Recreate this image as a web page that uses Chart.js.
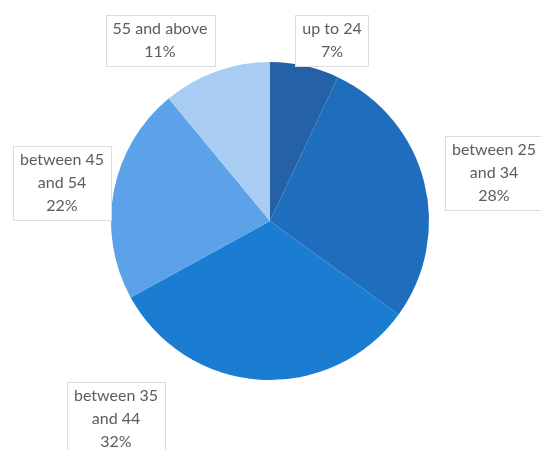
<!DOCTYPE html>
<html>
<head>
<meta charset="utf-8">
<script src="https://cdn.jsdelivr.net/npm/chart.js@4"></script>
<style>
  html, body { margin: 0; padding: 0; background: #fff; }
  #wrap { width: 541px; height: 450px; }
</style>
</head>
<body>
<div id="wrap"><canvas id="grafico" width="541" height="450"></canvas></div>
<script>
const categorias = [["up to 24"], ["between 25", "and 34"], ["between 35", "and 44"], ["between 45", "and 54"], ["55 and above"]]
const valores = [7, 28, 32, 22, 11]
const cores = ["#2561a6", "#1f6ebe", "#1b7dd2", "#5ca2e9", "#a9ccf3"]

// where each label box sits, relative to the pie centre
const posRotulos = [[62, -181], [224, -48], [-154, 198], [-208, -38], [-110, -181]]

const rotulos = {
    id: "rotulos",
    afterDraw(chart) {
        const ctx = chart.ctx
        const arcos = chart.getDatasetMeta(0).data
        const cx = arcos[0].x
        const cy = arcos[0].y
        const total = valores.reduce((a, b) => a + b, 0)
        ctx.save()
        ctx.font = "16px Lato"
        ctx.textAlign = "center"
        ctx.textBaseline = "middle"
        categorias.forEach((linhas, i) => {
            const texto = [...linhas, Math.round(valores[i] / total * 100) + "%"]
            const alt = 23
            const larg = Math.max(...texto.map(t => ctx.measureText(t).width)) + 14
            const x = cx + posRotulos[i][0]
            const y = cy + posRotulos[i][1]
            const h = (texto.length - 1) * alt + 28
            ctx.fillStyle = "#fff"
            ctx.strokeStyle = "#dcdcdc"
            ctx.lineWidth = 1
            ctx.fillRect(Math.round(x - larg / 2) + 0.5, Math.round(y - h / 2) + 0.5, Math.round(larg), Math.round(h))
            ctx.strokeRect(Math.round(x - larg / 2) + 0.5, Math.round(y - h / 2) + 0.5, Math.round(larg), Math.round(h))
            ctx.fillStyle = "#5c5c5c"
            texto.forEach((t, j) => {
                ctx.fillText(t, x, y - (texto.length - 1) * alt / 2 + j * alt)
            })
        })
        ctx.restore()
    }
}

new Chart(document.getElementById("grafico"), {
    type: "pie",
    data: {
        labels: categorias.map(l => l.join(" ")),
        datasets: [{
            data: valores,
            backgroundColor: cores,
            borderWidth: 0
        }]
    },
    options: {
        responsive: false,
        animation: false,
        layout: { padding: { top: 62, bottom: 70, left: 111, right: 112 } },
        plugins: {
            legend: { display: false },
            tooltip: { enabled: false }
        }
    },
    plugins: [rotulos]
})
</script>
</body>
</html>
